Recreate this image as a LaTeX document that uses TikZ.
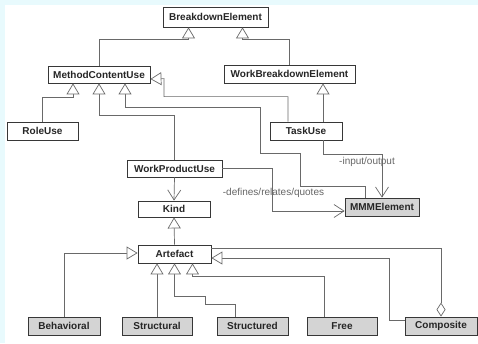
\documentclass[tikz,border=0pt]{standalone}
\usepackage{fontspec}
\setmainfont{Liberation Sans}
\usetikzlibrary{arrows.meta}
\definecolor{frame}{RGB}{232,250,253}
\definecolor{wirec}{RGB}{105,105,105}
\definecolor{edgec}{RGB}{55,55,55}
\definecolor{shade}{RGB}{212,212,212}
\begin{document}
\begin{tikzpicture}[x=1pt,y=-1pt,
  cls/.style={draw=edgec, line width=0.8pt, fill=white, inner sep=0pt,
    font=\fontsize{10}{12}\selectfont\bfseries, text=black!85, minimum height=18pt},
  leaf/.style={cls, fill=shade},
  wire/.style={draw=wirec, line width=0.7pt},
  isa/.style={wire, -{Triangle[open, fill=white, length=11pt, width=13pt]}},
  uses/.style={wire, -{Straight Barb[length=10pt, width=13pt]}},
  whole/.style={wire, {Diamond[open, fill=white, length=14pt, width=9pt]}-},
  lbl/.style={font=\fontsize{10}{12}\selectfont, text=black!60, inner sep=1pt}
]
% canvas
\fill[frame] (0,0) rectangle (478,343);
\fill[white] (5,5) rectangle (478,343);
\useasboundingbox (0,0) rectangle (478,343);

% classes
\node[cls, minimum width=105pt, minimum height=20pt] (be)   at (215.5,17)  {BreakdownElement};
\node[cls, minimum width=102pt, minimum height=17pt] (mcu)  at (99,74.5)   {MethodContentUse};
\node[cls, minimum width=131pt] (wbe)  at (289.5,74)   {WorkBreakdownElement};
\node[cls, minimum width=71pt]  (role) at (42.5,131)   {RoleUse};
\node[cls, minimum width=72pt]  (task) at (306,131)    {TaskUse};
\node[cls, minimum width=95pt, minimum height=17pt] (wpu) at (174.5,168.5) {WorkProductUse};
\node[cls, minimum width=72pt, minimum height=16pt] (kind) at (174,209) {Kind};
\node[leaf, minimum width=74pt] (mmm)  at (382,207)    {MMMElement};
\node[cls, minimum width=73pt]  (art)  at (174.5,254)  {Artefact};
\node[leaf, minimum width=72pt] (beh)  at (64,326)     {Behavioral};
\node[leaf, minimum width=70pt] (stl)  at (157,326)    {Structural};
\node[leaf, minimum width=71pt] (std)  at (252.5,326)  {Structured};
\node[leaf, minimum width=70pt] (free) at (342,326)    {Free};
\node[leaf, minimum width=72pt] (comp) at (441,326)    {Composite};

% generalisations, upper part
\draw[isa] (mcu.north) -- ++(0,-26) -| ([xshift=-27pt]be.south);
\draw[isa] (wbe.north) -- ++(0,-25) -| ([xshift=27pt]be.south);
\draw[isa] (role.north) -- ++(0,-24) -| ([xshift=-26pt]mcu.south);
\draw[isa] (wpu.north) -- ++(0,-44) -| (mcu.south);
\draw[isa] ([xshift=-18pt]task.north) -- ++(0,-25) -- ++(-124,0) -- ++(0,-18)
  -- ([yshift=-4.5pt]mcu.east);
\draw[isa] ([xshift=17pt]task.north) -- ([xshift=17pt]task.north |- wbe.south);
\draw[isa] ([xshift=-17pt]mmm.north) -- ++(0,-11) -- ++(-65,0) -- ++(0,-33)
  -- ++(-40,0) -- ++(0,-46) -| ([xshift=26pt]mcu.south);

% associations
\draw[uses] ([xshift=17pt]task.south) -- ++(0,14) -| (mmm.north);
\node[lbl] (io) at (367,162) {-input/output};
\draw[uses] (wpu.east) -- ++(50,0) |- ([yshift=-4pt]mmm.west);
\node[lbl] (drq) at (273.5,193) {-defines/relates/quotes};
\draw[uses] (wpu.south) -- (kind.north);

% artefact hierarchy
\draw[isa] (art.north) -- (kind.south);
\draw[isa] (beh.north) |- ([yshift=1pt]art.west);
\draw[isa] (stl.north) -- (stl.north |- art.south);
\draw[isa] ([xshift=-17.5pt]std.north) -- ++(0,-12) -- ++(-30,0) -- ++(0,-8)
  -| (art.south);
\draw[isa] ([xshift=-18pt]free.north) -- ++(0,-40) -| ([xshift=18pt]art.south);
\draw[isa] ([yshift=6pt]comp.west) -- ++(-15,0) |- ([yshift=-4pt]art.east);
\draw[whole] (comp.north) |- ([yshift=6pt]art.east);
\end{tikzpicture}
\end{document}
